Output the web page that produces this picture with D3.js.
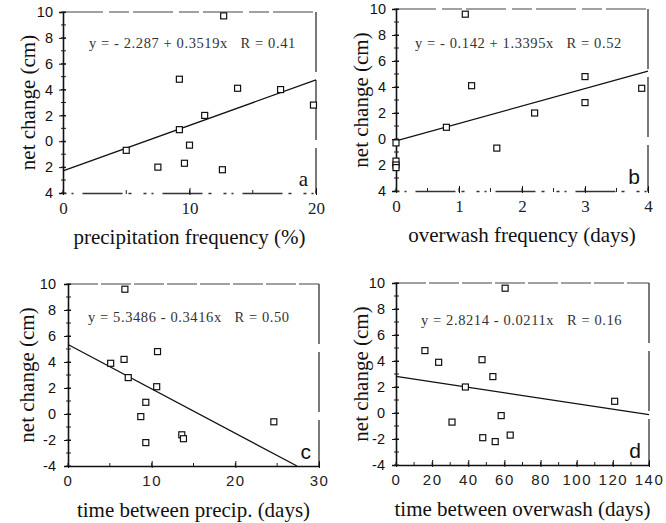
<!DOCTYPE html>
<html>
<head>
<meta charset="utf-8">
<script src="https://cdn.jsdelivr.net/npm/d3@7"></script>
<style>
  body { margin: 0; background: #fff; }
  svg { display: block; }
  text { fill: #111; }
</style>
</head>
<body>
<svg id="chart" width="666" height="523"></svg>
<script>
// net change (cm) vs. four explanatory variables, 12 sites each

// a: precipitation frequency (%)
var precipFreq       = [5.0, 7.5, 9.2, 9.2, 9.6, 10.0, 11.2, 12.6, 12.7, 13.8, 17.2, 19.8];
var precipFreqChange = [-0.7, -2.0, 4.8, 0.9, -1.7, -0.3, 2.0, -2.2, 9.7, 4.1, 4.0, 2.8];

// b: overwash frequency (days)
var owFreq       = [0, 0, 0, 0, 0.8, 1.1, 1.2, 1.6, 2.2, 3.0, 3.0, 3.9];
var owFreqChange = [-0.3, -1.7, -2.0, -2.2, 0.9, 9.6, 4.1, -0.7, 2.0, 4.8, 2.8, 3.9];

// c: time between precip. (days)
var precipGap       = [5.1, 6.7, 6.8, 7.2, 8.7, 9.3, 9.3, 10.7, 10.6, 13.6, 13.8, 24.6];
var precipGapChange = [3.9, 4.2, 9.6, 2.8, -0.2, 0.9, -2.2, 4.8, 2.1, -1.6, -1.9, -0.6];

// d: time between overwash (days)
var owGap       = [16, 23.6, 31, 38.4, 47.6, 48, 53.6, 54.9, 58.2, 60.4, 63.2, 121];
var owGapChange = [4.8, 3.9, -0.7, 2.0, 4.1, -1.9, 2.8, -2.2, -0.2, 9.6, -1.7, 0.9];

// regression fits [intercept, slope]
var fitA = [-2.287, 0.3519];
var fitB = [-0.142, 1.3395];
var fitC = [5.3486, -0.3416];
var fitD = [2.8214, -0.0211];

var eqLabels = [
  "y = - 2.287 + 0.3519x   R = 0.41",
  "y = - 0.142 + 1.3395x   R = 0.52",
  "y = 5.3486 - 0.3416x   R = 0.50",
  "y = 2.8214 - 0.0211x   R = 0.16"
];
var xTitles = [
  "precipitation frequency (%)",
  "overwash frequency (days)",
  "time between precip. (days)",
  "time between overwash (days)"
];
var panelLetters = ["a", "b", "c", "d"];

var yTicks = [-4, -2, 0, 2, 4, 6, 8, 10];
var xTicksA = [0, 10, 20];
var xTicksB = [0, 1, 2, 3, 4];
var xTicksC = [0, 10, 20, 30];
var xTicksD = [0, 20, 40, 60, 80, 100, 120, 140];

var serif = "'Liberation Serif', 'DejaVu Serif', serif";
var sans = "'Liberation Sans', Arial, sans-serif";

var svg = d3.select("#chart");

var panels = [
  {x: precipFreq, y: precipFreqChange, fit: fitA, xmax: 20,  ticks: xTicksA, minor: 5,   left: 63,  top: 12,  w: 253, h: 181, eqDx: 26, eqDy: 36, ytx: -28, pad: 6, scan: true},
  {x: owFreq,     y: owFreqChange,     fit: fitB, xmax: 4,   ticks: xTicksB, minor: 0.5, left: 396, top: 9,   w: 252, h: 182, eqDx: 19, eqDy: 39, ytx: -28, pad: 6, scan: true},
  {x: precipGap,  y: precipGapChange,  fit: fitC, xmax: 30,  ticks: xTicksC, minor: 5,   left: 68,  top: 284, w: 251, h: 182, eqDx: 20, eqDy: 38, ytx: -34, pad: 8, scan: false},
  {x: owGap,      y: owGapChange,      fit: fitD, xmax: 140, ticks: xTicksD, minor: 10,  left: 396, top: 283, w: 253, h: 182, eqDx: 25, eqDy: 42, ytx: -28, pad: 7, scan: false}
];

panels.forEach(function(p, i){
  var g = svg.append("g").attr("transform", "translate(" + p.left + "," + p.top + ")");

  var x = d3.scaleLinear().domain([0, p.xmax]).range([0, p.w]);
  var y = d3.scaleLinear().domain([-4, 10]).range([p.h, 0]);

  // faint top / right frame
  g.append("line").attr("x1", 0).attr("x2", p.w).attr("y1", 0).attr("y2", 0)
    .attr("stroke", "#444").attr("stroke-width", 1.2)
    .attr("stroke-dasharray", p.scan ? "40,6,20,4" : "30,3");
  g.append("line").attr("x1", p.w).attr("x2", p.w).attr("y1", 0).attr("y2", p.h)
    .attr("stroke", "#333").attr("stroke-width", 1.3)
    .attr("stroke-dasharray", "60,8");

  // minor ticks
  var xMinor = d3.range(0, p.xmax + p.minor / 2, p.minor);
  g.selectAll(".xminor").data(xMinor).enter().append("line")
    .attr("x1", function(d){ return x(d); }).attr("x2", function(d){ return x(d); })
    .attr("y1", p.h - 3).attr("y2", p.h + 1)
    .attr("stroke", "#222").attr("stroke-width", 1);
  g.selectAll(".yminor").data(d3.range(-4, 11, 1)).enter().append("line")
    .attr("x1", -2).attr("x2", 3)
    .attr("y1", function(d){ return y(d); }).attr("y2", function(d){ return y(d); })
    .attr("stroke", "#222").attr("stroke-width", 1);

  // y axis
  var yAxis = d3.axisLeft(y).tickValues(yTicks).tickSize(4).tickPadding(p.pad)
    .tickFormat(function(d){ return p.scan ? String(Math.abs(d)) : String(d); });
  var ya = g.append("g").call(yAxis);
  ya.select(".domain").attr("stroke", "#111").attr("stroke-width", 1.6);
  ya.selectAll(".tick line").attr("stroke", "#111").attr("x2", -4).attr("x1", 3);
  ya.selectAll("text").attr("font-family", sans).attr("font-size", 14.5).style("fill", "#111");

  // x axis
  var xAxis = d3.axisBottom(x).tickValues(p.ticks).tickSize(0).tickPadding(9)
    .tickFormat(d3.format("d"));
  var xa = g.append("g").attr("transform", "translate(0," + p.h + ")").call(xAxis);
  xa.select(".domain").attr("stroke", p.scan ? "#333" : "#111")
    .attr("stroke-width", 1.4)
    .attr("stroke-dasharray", p.scan ? "3,5,2,9,40,6,3,12" : null);
  xa.selectAll(".tick").append("line").attr("y1", -5).attr("y2", 2).attr("stroke", "#111");
  xa.selectAll("text")
    .attr("font-family", p.scan ? serif : sans)
    .attr("font-size", p.scan ? 17 : 15)
    .style("letter-spacing", p.scan ? "0px" : "1.5px")
    .style("fill", "#222");

  // regression line, clipped to the plot
  var x0 = 0, x1 = p.xmax;
  var yEnd = p.fit[0] + p.fit[1] * x1;
  if (yEnd < -4) x1 = (-4 - p.fit[0]) / p.fit[1];
  var line = d3.line().x(function(d){ return x(d); })
    .y(function(d){ return y(p.fit[0] + p.fit[1] * d); });
  g.append("path").datum([x0, x1]).attr("d", line)
    .attr("fill", "none").attr("stroke", "#111").attr("stroke-width", 1.3);

  // open square markers
  var pts = p.x.map(function(v, k){ return [v, p.y[k]]; });
  g.selectAll(".pt").data(pts).enter().append("rect")
    .attr("x", function(d){ return x(d[0]) - 3; })
    .attr("y", function(d){ return y(d[1]) - 3; })
    .attr("width", 6).attr("height", 6)
    .attr("fill", "#fff").attr("stroke", "#111").attr("stroke-width", 1.2);

  // equation
  g.append("text").attr("x", p.eqDx).attr("y", p.eqDy)
    .attr("font-family", serif).attr("font-size", 14.5)
    .style("white-space", "pre").style("letter-spacing", "0.6px").style("fill", "#333")
    .text(eqLabels[i]);

  // panel letter
  g.append("text").attr("x", p.w - 8).attr("y", p.h - 7)
    .attr("text-anchor", "end")
    .attr("font-family", i === 0 ? serif : sans).attr("font-size", 21)
    .text(panelLetters[i]);

  // axis titles
  g.append("text").attr("x", p.w / 2).attr("y", p.h + 51)
    .attr("text-anchor", "middle")
    .attr("font-family", serif).attr("font-size", 21)
    .text(xTitles[i]);
  g.append("text")
    .attr("transform", "translate(" + p.ytx + "," + (p.h / 2) + ") rotate(-90)")
    .attr("text-anchor", "middle")
    .attr("font-family", serif).attr("font-size", 21)
    .text("net change (cm)");
});
</script>
</body>
</html>
